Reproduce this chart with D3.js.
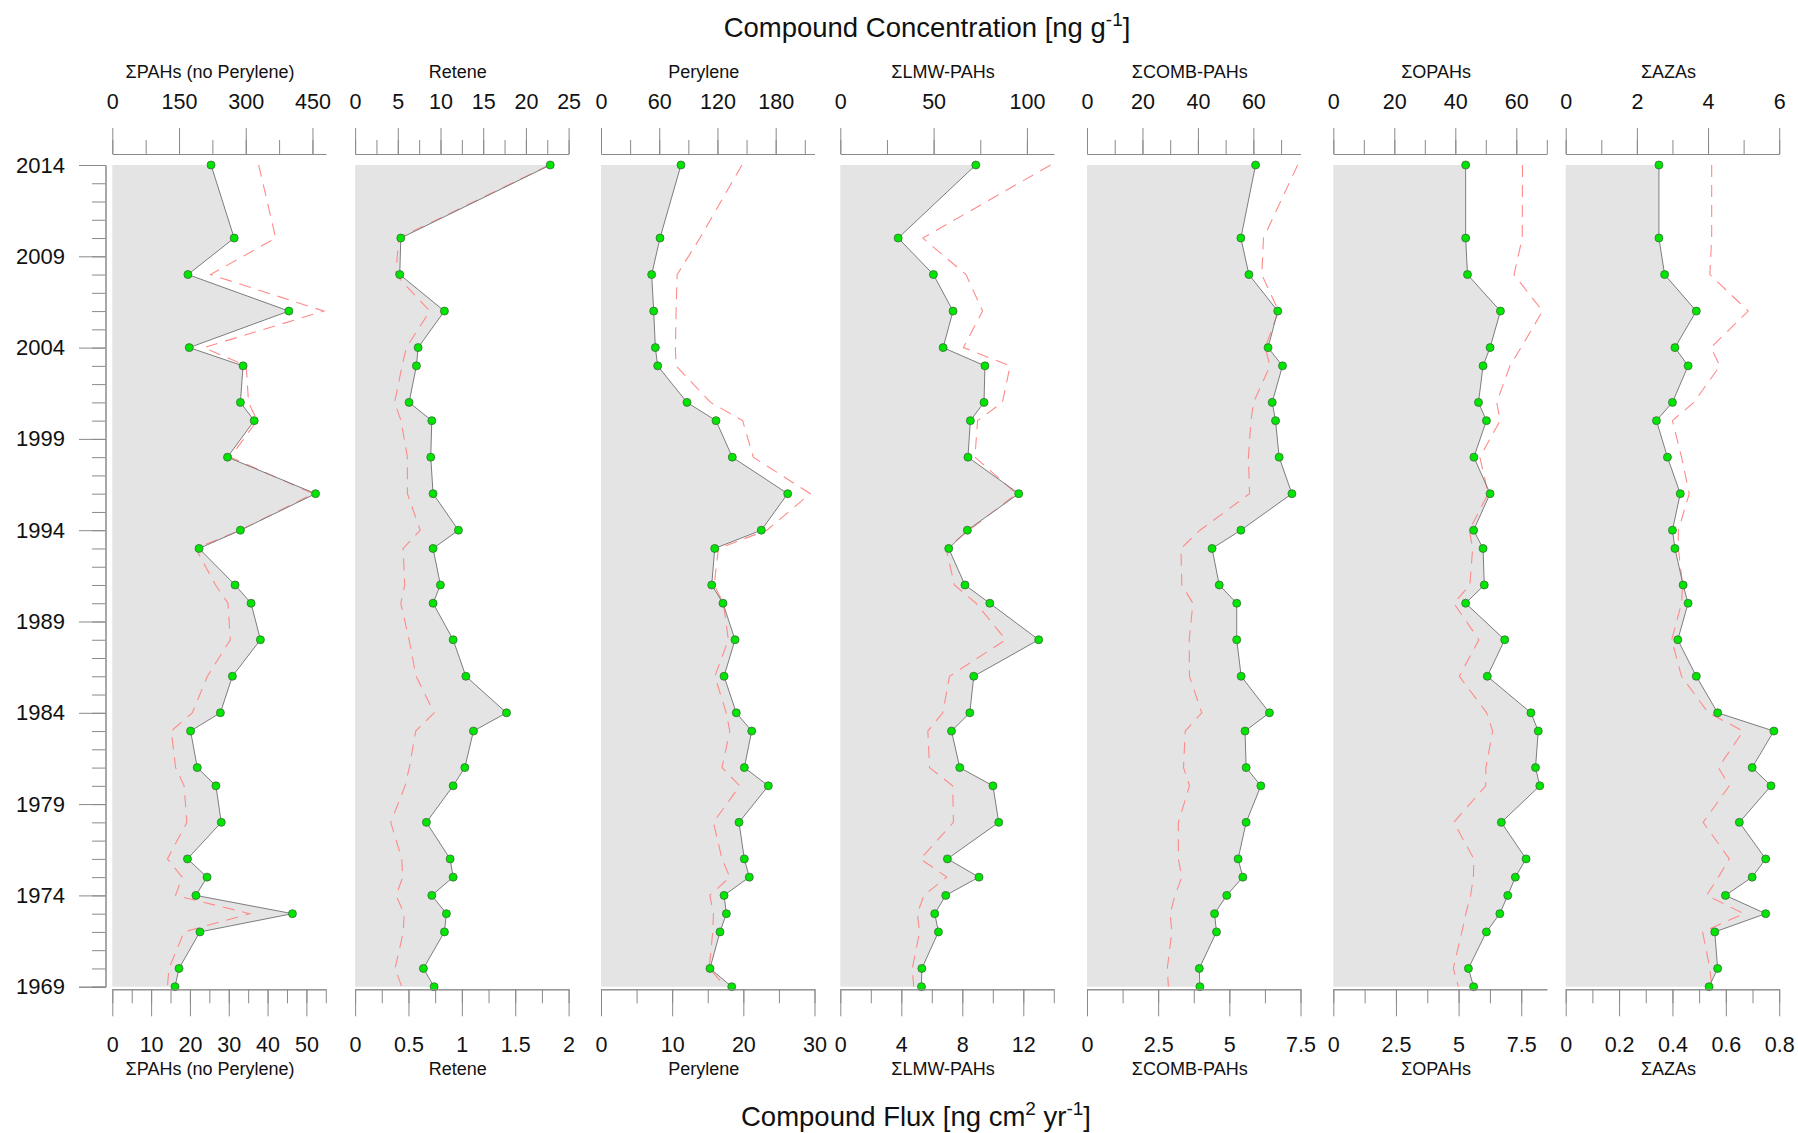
<!DOCTYPE html>
<html>
<head>
<meta charset="utf-8">
<script src="https://cdn.jsdelivr.net/npm/d3@7"></script>
<style>
  body { margin: 0; background: #fff; }
  svg text { font-family: "Liberation Sans", Arial, sans-serif; fill: #111; }
</style>
</head>
<body>
<script>
// sample years (depth dated), top of core first
var years = [2014, 2010, 2008, 2006, 2004, 2003, 2001, 2000, 1998, 1996, 1994, 1993, 1991, 1990,
             1988, 1986, 1984, 1983, 1981, 1980, 1978, 1976, 1975, 1974, 1973, 1972, 1970, 1969];

// concentration [ng g-1] (top axes) and flux [ng cm2 yr-1] (bottom axes)
var pahsConc = [222, 274, 170, 397, 173, 294, 288, 319, 259, 457, 288, 195, 276, 312,
                333, 270, 243, 176, 191, 233, 245, 169, 213, 188, 405, 197, 150, 141];
var pahsFlux = [37.7, 42.1, 25.3, 54.5, 23.6, 34.5, 35.1, 37.3, 30.4, 51.8, 33.0, 21.5, 26.6, 29.8,
                30.4, 24.5, 20.6, 15.2, 16.3, 18.5, 19.2, 14.2, 18.0, 16.3, 35.4, 18.5, 14.6, 14.2];

var reteneConc = [22.85, 5.35, 5.23, 10.46, 7.38, 7.18, 6.32, 8.98, 8.86, 9.13, 12.1, 9.13, 9.99, 9.13,
                  11.48, 12.97, 17.73, 13.86, 12.85, 11.48, 8.35, 11.13, 11.48, 8.98, 10.69, 10.46, 8.0, 9.25];
var reteneFlux = [1.82, 0.41, 0.38, 0.70, 0.48, 0.44, 0.37, 0.43, 0.49, 0.49, 0.61, 0.45, 0.465, 0.428,
                  0.506, 0.571, 0.74, 0.568, 0.508, 0.468, 0.334, 0.437, 0.446, 0.384, 0.459, 0.452, 0.374, 0.437];

var peryleneConc = [82.4, 60.8, 52.2, 54.3, 56.0, 58.4, 88.6, 118.5, 135.3, 192.4, 165.2, 117.2, 114.1, 125.7,
                    138.1, 126.8, 139.4, 155.3, 147.7, 172.4, 142.2, 147.7, 152.8, 126.8, 129.2, 122.6, 112.3, 134.7];
var peryleneFlux = [19.8, 13.9, 10.7, 10.55, 10.45, 10.55, 15.4, 19.9, 21.4, 29.4, 23.3, 16.5, 15.9, 17.2,
                    17.9, 16.0, 17.6, 18.1, 17.0, 19.5, 15.8, 17.0, 18.1, 15.3, 15.8, 15.7, 15.2, 17.5];

var lmwConc = [72.6, 31.0, 49.9, 60.4, 55.1, 77.5, 77.0, 69.7, 68.4, 95.6, 68.1, 58.1, 66.8, 80.1,
               106.3, 71.5, 69.4, 59.6, 64.0, 81.8, 84.9, 57.4, 74.3, 56.5, 50.6, 52.6, 43.7, 43.5];
var lmwFlux = [13.79, 5.41, 8.24, 9.33, 8.07, 11.13, 10.63, 9.0, 8.83, 11.55, 8.46, 6.94, 7.48, 8.9,
               10.85, 7.16, 6.72, 5.74, 5.85, 7.37, 7.42, 5.26, 6.98, 5.48, 5.05, 5.2, 4.72, 4.81];

var combConc = [60.8, 55.5, 58.4, 68.8, 65.3, 70.5, 66.8, 68.0, 69.3, 73.9, 55.5, 45.1, 47.7, 54.0,
                54.0, 55.6, 65.8, 57.0, 57.4, 62.7, 57.4, 54.5, 56.2, 50.4, 46.0, 46.7, 40.5, 40.7];
var combFlux = [7.40, 6.20, 6.14, 6.73, 6.26, 6.43, 5.85, 5.76, 5.67, 5.71, 3.97, 3.30, 3.33, 3.72,
                3.59, 3.60, 4.03, 3.45, 3.39, 3.60, 3.21, 3.21, 3.33, 3.09, 2.92, 2.98, 2.82, 2.86];

var opahsConc = [43.4, 43.4, 44.0, 54.8, 51.4, 49.1, 47.6, 50.2, 46.1, 51.4, 46.0, 49.1, 49.5, 43.4,
                 56.2, 50.5, 64.8, 67.2, 66.3, 67.7, 55.1, 63.2, 59.7, 57.2, 54.6, 50.2, 44.3, 46.0];
var opahsFlux = [7.55, 7.54, 7.21, 8.35, 7.49, 7.05, 6.52, 6.66, 5.85, 6.18, 5.43, 5.56, 5.45, 4.81,
                 5.81, 5.03, 6.12, 6.36, 6.09, 6.08, 4.81, 5.61, 5.59, 5.48, 5.29, 5.13, 4.79, 4.99];

var azasConc = [2.62, 2.62, 2.78, 3.67, 3.07, 3.44, 3.0, 2.55, 2.86, 3.22, 3.0, 3.07, 3.30, 3.44,
                3.15, 3.67, 4.27, 5.85, 5.24, 5.77, 4.88, 5.62, 5.24, 4.49, 5.62, 4.19, 4.27, 4.03];
var azasFlux = [0.547, 0.547, 0.540, 0.684, 0.544, 0.578, 0.48, 0.40, 0.434, 0.463, 0.422, 0.422, 0.438, 0.434,
                0.397, 0.434, 0.534, 0.665, 0.572, 0.613, 0.515, 0.613, 0.572, 0.528, 0.668, 0.513, 0.54, 0.547];

var names = ["\u03A3PAHs (no Perylene)", "Retene", "Perylene", "\u03A3LMW-PAHs", "\u03A3COMB-PAHs", "\u03A3OPAHs", "\u03A3AZAs"];

// axis extents and tick steps [max, minor step, major step]
var topAxes = [[480, 75, 150], [25, 2.5, 5], [220, 30, 60], [114.4, 25, 50], [77, 10, 20], [70, 10, 20], [6, 1, 2]];
var botAxes = [[55, 5, 10], [2, 0.25, 0.5], [30, 5, 10], [14, 2, 4], [7.5, 1.25, 2.5], [8.52, 1.25, 2.5], [0.8, 0.1, 0.2]];

var panels = [
  {conc: pahsConc, flux: pahsFlux},
  {conc: reteneConc, flux: reteneFlux},
  {conc: peryleneConc, flux: peryleneFlux},
  {conc: lmwConc, flux: lmwFlux},
  {conc: combConc, flux: combFlux},
  {conc: opahsConc, flux: opahsFlux},
  {conc: azasConc, flux: azasFlux}
];

var width = 1798,
    height = 1133,
    panelLeft = [112.3, 355.1, 601, 840.3, 1087, 1333.3, 1565.7],
    panelWidth = 213.5,
    topAxisY = 154,
    botAxisY = 989.3,
    axisColor = "#8a8a8a";

var svg = d3.select("body")
    .append("svg")
    .attr("width", width)
    .attr("height", height);

var y = d3.scaleLinear()
    .domain([1969, 2014])
    .range([986.7, 165]);

function stepTicks(max, step) {
    var out = [];
    for (var v = 0; v <= max + 1e-9; v += step) out.push(+v.toFixed(4));
    return out;
}

function styleAxis(g, size) {
    g.attr("color", axisColor)
     .attr("font-family", null)
     .attr("font-size", size);
    g.selectAll("text").attr("fill", "#111");
}

panels.forEach(function(p, i) {
    var left = panelLeft[i],
        right = left + panelWidth;

    var xTop = d3.scaleLinear().domain([0, topAxes[i][0]]).range([left, right]);
    var xBot = d3.scaleLinear().domain([0, botAxes[i][0]]).range([left, right]);

    var pts = years.map(function(yr, j) {
        return {yr: yr, c: p.conc[j], f: p.flux[j]};
    });

    var g = svg.append("g");

    // grey fill under concentration profile
    g.append("path")
        .datum(pts)
        .attr("d", d3.area()
            .y(function(d) { return y(d.yr); })
            .x0(xTop(0))
            .x1(function(d) { return xTop(d.c); }))
        .attr("fill", "#e4e4e4");

    // flux (dashed red)
    g.append("path")
        .datum(pts)
        .attr("d", d3.line()
            .x(function(d) { return xBot(d.f); })
            .y(function(d) { return y(d.yr); }))
        .attr("fill", "none")
        .attr("stroke", "#ff8a8a")
        .attr("stroke-width", 1.1)
        .attr("stroke-dasharray", "12,8");

    // concentration line
    g.append("path")
        .datum(pts)
        .attr("d", d3.line()
            .x(function(d) { return xTop(d.c); })
            .y(function(d) { return y(d.yr); }))
        .attr("fill", "none")
        .attr("stroke", "#7d7d7d")
        .attr("stroke-width", 1);

    g.selectAll("circle")
        .data(pts)
        .enter()
        .append("circle")
        .attr("cx", function(d) { return xTop(d.c); })
        .attr("cy", function(d) { return y(d.yr); })
        .attr("r", 4)
        .attr("fill", "#00e600")
        .attr("stroke", "#3d6b3d")
        .attr("stroke-width", 0.8);

    // top axis: minor then major
    var topMinor = stepTicks(topAxes[i][0], topAxes[i][1]);
    var topMajor = stepTicks(topAxes[i][0], topAxes[i][2]);
    g.append("g")
        .attr("transform", "translate(0," + topAxisY + ")")
        .call(d3.axisTop(xTop).tickValues(topMinor).tickSize(14).tickSizeOuter(0).tickFormat(""))
        .call(styleAxis, 21.5);
    g.append("g")
        .attr("transform", "translate(0," + topAxisY + ")")
        .call(d3.axisTop(xTop).tickValues(topMajor).tickSize(26).tickSizeOuter(0).tickPadding(19).tickFormat(d3.format("~g")))
        .call(styleAxis, 21.5);

    var botMinor = stepTicks(botAxes[i][0], botAxes[i][1]);
    var botMajor = stepTicks(botAxes[i][0], botAxes[i][2]);
    g.append("g")
        .attr("transform", "translate(0," + botAxisY + ")")
        .call(d3.axisBottom(xBot).tickValues(botMinor).tickSize(14).tickSizeOuter(0).tickFormat(""))
        .call(styleAxis, 21.5);
    g.append("g")
        .attr("transform", "translate(0," + botAxisY + ")")
        .call(d3.axisBottom(xBot).tickValues(botMajor).tickSize(27).tickSizeOuter(0).tickPadding(20).tickFormat(d3.format("~g")))
        .call(styleAxis, 21.5);

    // panel titles
    var cx = (left + right) / 2 - (i === 0 ? 9 : 4);
    g.append("text")
        .attr("x", cx)
        .attr("y", 78)
        .attr("text-anchor", "middle")
        .attr("font-size", 18)
        .text(names[i]);
    g.append("text")
        .attr("x", cx)
        .attr("y", 1075)
        .attr("text-anchor", "middle")
        .attr("font-size", 18)
        .text(names[i]);
});

// year axis
var yearMajor = d3.range(1969, 2015, 5);
var yearMinor = d3.range(1969, 2015, 1);
svg.append("g")
    .attr("transform", "translate(105.5,0)")
    .call(d3.axisLeft(y).tickValues(yearMinor).tickSize(13.5).tickFormat(""))
    .call(styleAxis, 22);
svg.append("g")
    .attr("transform", "translate(105.5,0)")
    .call(d3.axisLeft(y).tickValues(yearMajor).tickSize(26.5).tickPadding(14).tickFormat(d3.format("d")))
    .call(styleAxis, 22);

// main titles
var t1 = svg.append("text")
    .attr("x", 927)
    .attr("y", 37)
    .attr("text-anchor", "middle")
    .attr("font-size", 27.5);
t1.append("tspan").text("Compound Concentration [ng g");
t1.append("tspan").attr("dy", -11).attr("font-size", 19).text("-1");
t1.append("tspan").attr("dy", 11).text("]");

var t2 = svg.append("text")
    .attr("x", 916)
    .attr("y", 1126)
    .attr("text-anchor", "middle")
    .attr("font-size", 27.5);
t2.append("tspan").text("Compound Flux [ng cm");
t2.append("tspan").attr("dy", -11).attr("font-size", 19).text("2");
t2.append("tspan").attr("dy", 11).text(" yr");
t2.append("tspan").attr("dy", -11).attr("font-size", 19).text("-1");
t2.append("tspan").attr("dy", 11).text("]");
</script>
</body>
</html>
